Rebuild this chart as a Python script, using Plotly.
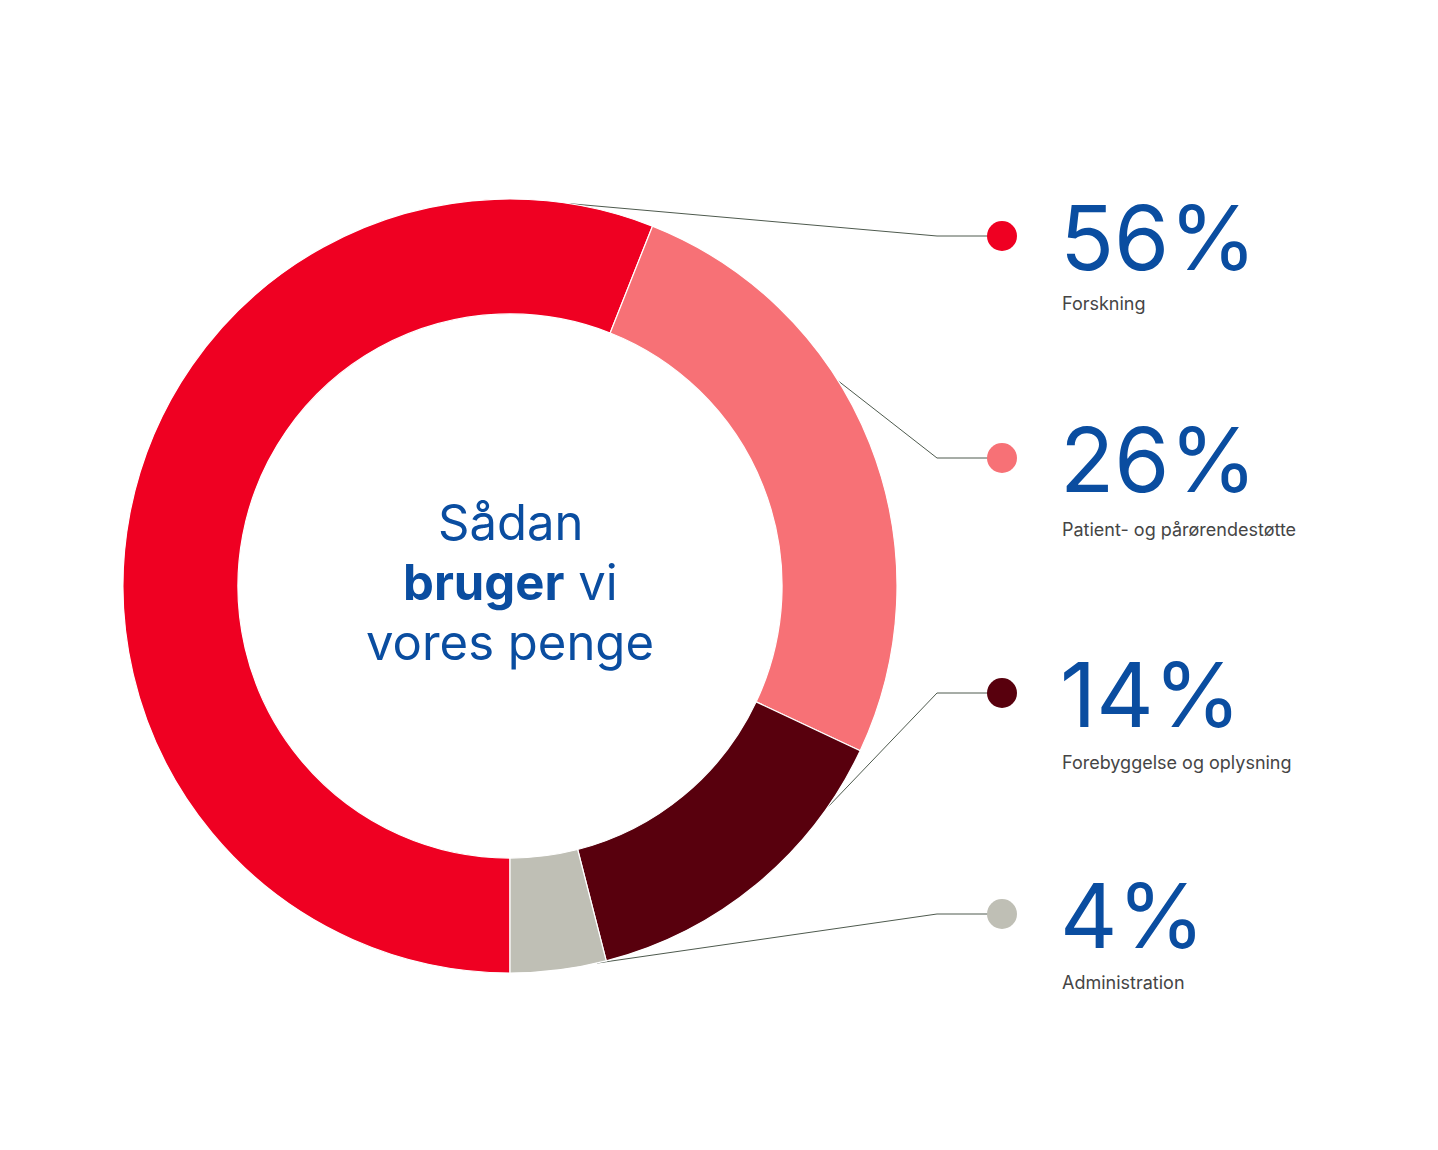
import math
import plotly.graph_objects as go

# ---- data ----
categories = ["Forskning", "Patient- og pårørendestøtte", "Forebyggelse og oplysning", "Administration"]
values = [56, 26, 14, 4]
pct_labels = ["56%", "26%", "14%", "4%"]
colors = ["#EF0022", "#F77176", "#58000D", "#BFBFB5"]

W, H = 1438, 1150
OFF = 8                    # page body margin compensation (px)
CX, CY = 510, 586          # donut centre (page px)
R_OUT = 387
HOLE = 0.703
ROTATION = 180             # first slice starts at 6 o'clock

# leader-line anchor angles (deg clockwise from 12 o'clock) on outer edge
anchor_angles = [9, 58, 125, 167]
row_y = [236, 458, 693, 914]
label_dy = [67, 71, 69, 68]
ELBOW_X = 937
DOT_X = 1002
TEXT_X = 1062

BLUE = "#0A4DA0"
GREY_TXT = "#454545"
LINE_C = "#4E5A4E"
FONT = "Inter"

fig = go.Figure()

cxp, cyp = CX - OFF, CY - OFF   # in figure px
fig.add_trace(go.Pie(
    labels=categories, values=values, sort=False, direction="clockwise",
    rotation=ROTATION, hole=HOLE,
    marker=dict(colors=colors, line=dict(color="white", width=1.2)),
    textinfo="none", hoverinfo="skip", showlegend=False,
    domain=dict(x=[(cxp - R_OUT) / W, (cxp + R_OUT) / W],
                y=[(H - cyp - R_OUT) / H, (H - cyp + R_OUT) / H]),
))

# leader lines & dots
for i, cat in enumerate(categories):
    a = math.radians(anchor_angles[i])
    sx = CX + R_OUT * math.sin(a)
    sy = CY - R_OUT * math.cos(a)
    fig.add_trace(go.Scatter(
        x=[sx, ELBOW_X, DOT_X], y=[sy, row_y[i], row_y[i]],
        mode="lines", line=dict(color=LINE_C, width=1),
        hoverinfo="skip", showlegend=False))
    fig.add_trace(go.Scatter(
        x=[DOT_X], y=[row_y[i]], mode="markers",
        marker=dict(size=30, color=colors[i], line=dict(width=0)),
        hoverinfo="skip", showlegend=False))
    fig.add_annotation(x=TEXT_X - 4, y=row_y[i] + 1, xref="x", yref="y",
                       text=pct_labels[i], showarrow=False, xanchor="left", yanchor="middle",
                       font=dict(family=FONT, size=89, color=BLUE))
    fig.add_annotation(x=TEXT_X - 2, y=row_y[i] + label_dy[i], xref="x", yref="y",
                       text=cat, showarrow=False, xanchor="left", yanchor="middle",
                       font=dict(family=FONT, size=18, color=GREY_TXT))

# centre title
centre_lines = ["Sådan", "<b>bruger</b> vi", "vores penge"]
centre_y = [522, 582, 642]
for t, y in zip(centre_lines, centre_y):
    fig.add_annotation(x=CX, y=y, xref="x", yref="y", text=t, showarrow=False,
                       xanchor="center", yanchor="middle",
                       font=dict(family=FONT, size=49, color=BLUE))

fig.update_layout(
    width=W, height=H, margin=dict(l=0, r=0, t=0, b=0),
    paper_bgcolor="white", plot_bgcolor="rgba(0,0,0,0)",
    xaxis=dict(range=[OFF, W + OFF], visible=False, fixedrange=True),
    yaxis=dict(range=[H + OFF, OFF], visible=False, fixedrange=True),
)

fig.write_html("out.html")
